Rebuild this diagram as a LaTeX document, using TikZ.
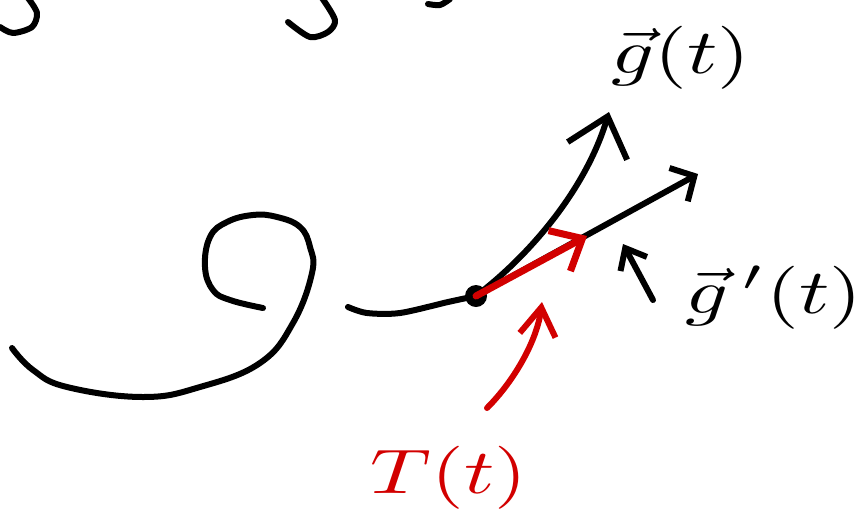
\documentclass[tikz,border=0pt]{standalone}
\usetikzlibrary{arrows.meta}
\definecolor{penred}{RGB}{210,0,0}
\newcommand{\handlbl}[1]{\scalebox{8.4}[6.3]{#1}}
\begin{document}
\begin{tikzpicture}[x=1pt, y=-1pt,
    line width=6pt, line cap=round, line join=round,
    every node/.style={inner sep=0pt},
    dotnode/.style={circle, fill, minimum size=22pt},
    bigbarb/.style={-{Straight Barb[length=36pt, width=62pt]}},
    tanbarb/.style={-{Straight Barb[length=18pt, width=38pt]}},
    redbarb/.style={-{Straight Barb[length=26pt, width=46pt]}},
    ptrbarb/.style={-{Straight Barb[length=18pt, width=30pt]}},
    rptrbarb/.style={-{Straight Barb[length=28pt, width=36pt]}}]
    \useasboundingbox (0,0) rectangle (861,523);
    % Fragments at the top edge
    \draw plot[smooth] coordinates {(28,-2) (37,13) (32,27) (13,33) (0,27)};
    \draw plot[smooth] coordinates {(322,-2) (335,20) (328,32) (310,37) (288,22)};
    \draw plot[smooth] coordinates {(450,-1) (440,5) (428,4)};
    % Nodes
    \node[dotnode] (dot) at (476,296) {};
    \node (gl)  at (681,58)  {\handlbl{$\vec g(t)$}};
    \node (gpl) at (774,298) {\handlbl{$\vec g\,'(t)$}};
    \node[penred] (tl) at (449,478) {\handlbl{$T(t)$}};
    \coordinate (gtip)  at (609,112);
    \coordinate (gptip) at (698,174);
    \coordinate (ttip)  at (587,236);
    \coordinate (ptail) at (653,300);
    \coordinate (phead) at (623,244);
    \coordinate (rtail) at (487,408);
    \coordinate (rhead) at (542,302);
    % The curve
    \draw plot[smooth, tension=0.7] coordinates {(12,348) (33,370) (67,387) (143,397)
        (200,387) (260,363) (293,323) (312,273) (310,247) (300,227) (277,217)
        (253,215) (227,222) (210,237) (205,267) (213,290) (230,300) (263,308)};
    \draw plot[smooth] coordinates {(348,307) (367,313) (400,313) (448,302) (476,296)};
    % Edges
    \draw[bigbarb] (dot.center) .. controls (530,255) and (586,189) .. (gtip);
    \draw[tanbarb] (dot.center) -- (gptip);
    \draw[penred, line width=7pt, redbarb] (dot.center) -- (ttip);
    \draw[ptrbarb] (ptail) -- (phead);
    \draw[penred, rptrbarb] (rtail) .. controls (515,380) and (537,340) .. (rhead);
\end{tikzpicture}
\end{document}
